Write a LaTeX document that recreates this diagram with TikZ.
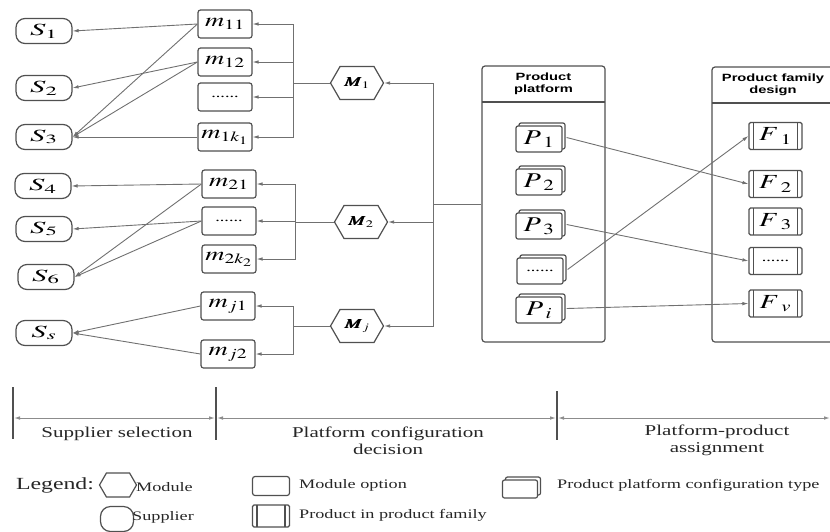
\documentclass[tikz,border=0pt]{standalone}
\usepackage{mathptmx}
\usepackage{bm}
\usepackage{graphicx}
\usepackage[no-math]{fontspec}
\setmainfont{Liberation Serif}[FakeStretch=1.4]
\setsansfont{Liberation Sans}[FakeStretch=1.4]
\usetikzlibrary{arrows.meta,shapes.symbols,shadows}
\definecolor{boxc}{HTML}{505050}
\definecolor{linec}{HTML}{707070}
\definecolor{dimc}{HTML}{8C8C8C}
\newcommand\mlab[2]{\scalebox{#1}[1]{$#2$}}
\begin{document}
\begin{tikzpicture}[x=1pt,y=-1pt]
\tikzset{
  bx/.style={draw=boxc, line width=1.2pt, fill=white, inner sep=0pt, text=black},
  supp/.style={bx, rounded corners=9pt, minimum width=56pt, minimum height=25pt, font=\fontsize{17}{17}\selectfont},
  opt/.style={bx, rounded corners=2.5pt, minimum width=54pt, minimum height=28pt, font=\fontsize{19}{19}\selectfont},
  modl/.style={bx, shape=signal, signal to=west and east, signal pointer angle=120, minimum width=53pt, minimum height=33pt, font=\fontsize{13.5}{13.5}\selectfont},
  ptype/.style={bx, rounded corners=2pt, minimum width=46pt, minimum height=26pt, font=\fontsize{21}{21}\selectfont,
    copy shadow={shadow xshift=3pt, shadow yshift=3pt, draw=boxc, fill=white, line width=1.2pt}},
  fam/.style={bx, rounded corners=1.5pt, minimum width=53pt, minimum height=27pt, font=\fontsize{20}{20}\selectfont,
    path picture={\draw[boxc, line width=1.1pt]
      ([xshift=4.5pt]path picture bounding box.north west) -- ([xshift=4.5pt]path picture bounding box.south west)
      ([xshift=-4.5pt]path picture bounding box.north east) -- ([xshift=-4.5pt]path picture bounding box.south east);}},
  panel/.style={draw=boxc, line width=1.2pt, rounded corners=3pt, inner sep=0pt},
  head/.style={font=\sffamily\bfseries\fontsize{10.5}{12}\selectfont, align=center, inner sep=0pt},
  conn/.style={draw=linec, line width=0.9pt},
  arr/.style={conn, -{Latex[length=6pt,width=3.6pt]}},
  dim/.style={draw=dimc, line width=1pt, {Latex[length=6pt,width=3.6pt]}-{Latex[length=6pt,width=3.6pt]}},
  tickln/.style={draw=boxc, line width=1.3pt},
  bt/.style={font=\fontsize{15}{17}\selectfont, align=center, inner sep=0pt, text=black!85},
  lt/.style={font=\fontsize{13}{13}\selectfont, inner sep=0pt, anchor=west, text=black!85},
  dots/.style={font=\fontsize{13}{13}\selectfont}
}
\clip (0,0) rectangle (830,531);

% suppliers
\node[supp] (S1) at (44,31) {\mlab{1.8}{S_1}};
\node[supp] (S2) at (44,88) {\mlab{1.8}{S_2}};
\node[supp] (S3) at (44,137) {\mlab{1.8}{S_3}};
\node[supp] (S4) at (43,186) {\mlab{1.8}{S_4}};
\node[supp] (S5) at (44,229) {\mlab{1.8}{S_5}};
\node[supp] (S6) at (46,277) {\mlab{1.8}{S_6}};
\node[supp] (Ss) at (44,333) {\mlab{1.8}{S_s}};

% module options
\node[opt] (m11) at (225,24) {\mlab{1.4}{m_{11}}};
\node[opt] (m12) at (225,62) {\mlab{1.4}{m_{12}}};
\node[opt, dots] (m1d) at (225,97) {......};
\node[opt] (m1k) at (225,137) {\mlab{1.4}{m_{1k_1}}};
\node[opt] (m21) at (229,184) {\mlab{1.4}{m_{21}}};
\node[opt, dots] (m2d) at (229,221) {......};
\node[opt] (m2k) at (229,259) {\mlab{1.4}{m_{2k_2}}};
\node[opt] (mj1) at (228,306) {\mlab{1.4}{m_{j1}}};
\node[opt] (mj2) at (228,354) {\mlab{1.4}{m_{j2}}};

% modules
\node[modl] (M1) at (357,83) {\mlab{1.45}{\bm{M}_1}};
\node[modl] (M2) at (361,222) {\mlab{1.45}{\bm{M}_2}};
\node[modl] (Mj) at (357,326) {\mlab{1.45}{\bm{M}_j}};

% panels
\node[panel, minimum width=123pt, minimum height=276pt] (PP) at (543.5,204) {};
\coordinate (PPl) at (482,102);
\coordinate (PPr) at (605,102);
\draw[boxc, line width=1.2pt] (PPl) -- (PPr);
\node[head] (PPh) at (543.5,84) {Product\\platform};
\node[panel, minimum width=188pt, minimum height=275pt] (PF) at (806,204.5) {};
\coordinate (PFl) at (712,103);
\coordinate (PFr) at (900,103);
\draw[boxc, line width=1.2pt] (PFl) -- (PFr);
\node[head] (PFh) at (773,85) {Product family\\design};

% platform types
\node[ptype] (P1) at (539,139) {\mlab{1.35}{P\mkern1.5mu_1}};
\node[ptype] (P2) at (539,182) {\mlab{1.35}{P\mkern1.5mu_2}};
\node[ptype] (P3) at (539,226) {\mlab{1.35}{P\mkern1.5mu_3}};
\node[ptype, dots] (Pd) at (540,271) {......};
\node[ptype] (Pi) at (539,310) {\mlab{1.35}{P\mkern1.5mu_i}};

% products
\node[fam] (F1) at (775.5,136) {\mlab{1.4}{F\mkern1.5mu_1}};
\node[fam] (F2) at (775.5,184) {\mlab{1.4}{F\mkern1.5mu_2}};
\node[fam] (F3) at (775.5,221.5) {\mlab{1.4}{F\mkern1.5mu_3}};
\node[fam, dots] (Fd) at (775.5,261) {......};
\node[fam] (Fv) at (775.5,303.5) {\mlab{1.4}{F\mkern1.5mu_v}};

% platform -> products
\draw[arr] ([xshift=4pt,yshift=1.5pt]P1.east) -- (F2.west);
\draw[arr] ([xshift=4pt,yshift=1.5pt]P3.east) -- (Fd.west);
\draw[arr] ([xshift=4pt,yshift=1.5pt]Pd.east) -- (F1.west);
\draw[arr] ([xshift=4pt,yshift=1.5pt]Pi.east) -- (Fv.west);

% platform -> modules
\coordinate (J) at (433,204);
\draw[conn] (PP.west) -- (J);
\draw[arr] (J) |- (M1.east);
\draw[arr] (J) |- (M2.east);
\draw[arr] (J) |- (Mj.east);

% modules -> options
\coordinate (B1) at (293,83);
\coordinate (B2) at (295,222);
\coordinate (Bj) at (293,326);
\draw[conn] (M1.west) -- (B1);
\draw[conn] (M2.west) -- (B2);
\draw[conn] (Mj.west) -- (Bj);
\draw[arr] (B1) |- (m11.east);
\draw[arr] (B1) |- (m12.east);
\draw[arr] (B1) |- (m1d.east);
\draw[arr] (B1) |- (m1k.east);
\draw[arr] (B2) |- (m21.east);
\draw[arr] (B2) |- (m2d.east);
\draw[arr] (B2) |- (m2k.east);
\draw[arr] (Bj) |- (mj1.east);
\draw[arr] (Bj) |- (mj2.east);

% options -> suppliers
\draw[arr] (m11.west) -- (S1.east);
\draw[arr] (m11.west) -- (S3.east);
\draw[arr] (m12.west) -- (S2.east);
\draw[arr] (m12.west) -- (S3.east);
\draw[arr] (m1k.west) -- (S3.east);
\draw[arr] (m21.west) -- (S4.east);
\draw[arr] (m21.west) -- (S6.east);
\draw[arr] (m2d.west) -- (S5.east);
\draw[arr] (m2d.west) -- (S6.east);
\draw[arr] (mj1.west) -- (Ss.east);
\draw[arr] (mj2.west) -- (Ss.east);

% stage dimension lines
\coordinate (t1a) at (13,387); \coordinate (t1b) at (13,439);
\coordinate (t2a) at (216,387); \coordinate (t2b) at (216,440);
\coordinate (t3a) at (557,391); \coordinate (t3b) at (557,440);
\draw[tickln] (t1a) -- (t1b);
\draw[tickln] (t2a) -- (t2b);
\draw[tickln] (t3a) -- (t3b);
\coordinate (d1) at (14,418); \coordinate (d2) at (215,418);
\coordinate (d3) at (217,418); \coordinate (d4) at (556,418);
\coordinate (d5) at (558,418); \coordinate (d6) at (830,418);
\draw[dim] (d1) -- (d2);
\draw[dim] (d3) -- (d4);
\draw[dim] (d5) -- (d6);
\node[bt] (L1) at (117,434) {Supplier selection};
\node[bt] (L2) at (388,441) {Platform configuration\\decision};
\node[bt] (L3) at (717,440) {Platform-product\\assignment};

% legend
\node[lt, anchor=center, font=\fontsize{17}{17}\selectfont] (lg) at (55,485) {Legend:};
\node[modl, minimum width=37pt, minimum height=24pt] (lgM) at (118,485) {};
\node[lt] (lgMt) at (136,487) {Module};
\node[opt, minimum width=37pt, minimum height=19pt] (lgO) at (271,486) {};
\node[lt] (lgOt) at (299,485) {Module option};
\node[ptype, minimum width=35pt, minimum height=18pt] (lgP) at (520,489) {};
\node[lt] (lgPt) at (557,485) {Product platform configuration type};
\node[supp, minimum width=33pt, minimum height=25pt, rounded corners=10pt] (lgS) at (117,519) {};
\node[lt] (lgSt) at (132,517) {Supplier};
\node[fam, minimum width=37pt, minimum height=22pt] (lgF) at (271,516) {};
\node[lt] (lgFt) at (299,515) {Product in product family};
\end{tikzpicture}
\end{document}
